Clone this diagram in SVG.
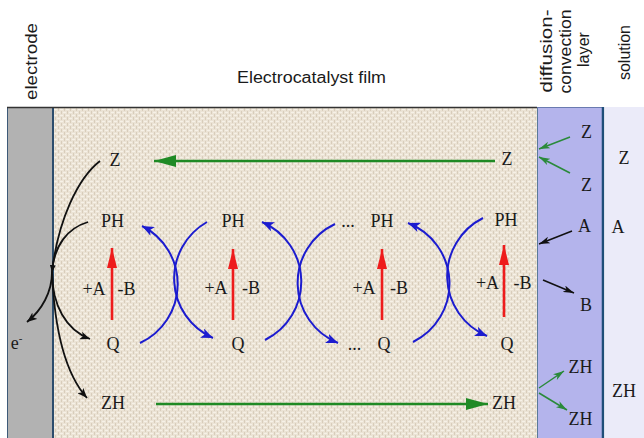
<svg xmlns="http://www.w3.org/2000/svg" width="644" height="438" viewBox="0 0 644 438">
<style>
.sans{font-family:"Liberation Sans",Arial,sans-serif;fill:#1a1a1a;font-size:16px}
.ser{font-family:"Liberation Serif","Times New Roman",serif;fill:#1a1a1a;font-size:18px;text-anchor:middle}
.blue{fill:none;stroke:#1c1ccf;stroke-width:2;marker-end:url(#mBlue)}
.red{stroke:#ee1c1c;stroke-width:2.6;marker-end:url(#mRed)}
.green{stroke:#1f8a25;stroke-width:2.4;marker-end:url(#mGreen)}
.blk{fill:none;stroke:#111;stroke-width:1.8}
.sg{stroke:#2a8a3a;stroke-width:1.5;marker-end:url(#mSG)}
.sk{stroke:#111;stroke-width:1.5;marker-end:url(#mSK)}
</style>
<defs>
<pattern id="weave" width="6" height="6" patternUnits="userSpaceOnUse">
<rect width="6" height="6" fill="#ebe3d5"/>
<path d="M0,1.5H3M3,4.5H6" stroke="#f6f1e7" stroke-width="1.2"/>
<path d="M1.5,3V6M4.5,0V3" stroke="#d8cdbb" stroke-width="1"/>
</pattern>
<marker id="mBlue" markerUnits="userSpaceOnUse" markerWidth="12" markerHeight="10" refX="12" refY="5" orient="auto"><path d="M0,0 L12,5 L0,10 L3,5 z" fill="#1c1ccf"/></marker>
<marker id="mRed" markerUnits="userSpaceOnUse" markerWidth="20" markerHeight="10" refX="20" refY="5" orient="auto"><path d="M0,0 L20,5 L0,10 z" fill="#ee1c1c"/></marker>
<marker id="mGreen" markerUnits="userSpaceOnUse" markerWidth="22" markerHeight="12" refX="22" refY="6" orient="auto"><path d="M0,0 L22,6 L0,12 z" fill="#1f8a25"/></marker>
<marker id="mBlk" markerUnits="userSpaceOnUse" markerWidth="10" markerHeight="8" refX="10" refY="4" orient="auto"><path d="M0,0 L10,4 L0,8 L2.5,4 z" fill="#111"/></marker>
<marker id="mBlkS" markerUnits="userSpaceOnUse" markerWidth="7" markerHeight="6" refX="7" refY="3" orient="auto"><path d="M0,0 L7,3 L0,6 z" fill="#111"/></marker>
<marker id="mSG" markerUnits="userSpaceOnUse" markerWidth="11" markerHeight="7" refX="11" refY="3.5" orient="auto"><path d="M0,0 L11,3.5 L0,7 L3,3.5 z" fill="#2a8a3a"/></marker>
<marker id="mSK" markerUnits="userSpaceOnUse" markerWidth="11" markerHeight="7" refX="11" refY="3.5" orient="auto"><path d="M0,0 L11,3.5 L0,7 L3,3.5 z" fill="#111"/></marker>
</defs>
<rect width="644" height="438" fill="#ffffff"/>

<g id="electrode">
<rect x="7" y="107" width="46" height="331" fill="#b2b2b2"/>
<line x1="7.5" y1="107" x2="7.5" y2="438" stroke="#3d5a78" stroke-width="1"/>
<line x1="53" y1="107" x2="53" y2="438" stroke="#2c4d6d" stroke-width="2"/>
<text class="sans" transform="translate(37,61.5) rotate(-90)" text-anchor="middle" textLength="77" lengthAdjust="spacingAndGlyphs">electrode</text>
</g>
<g id="film">
<rect x="54" y="107" width="483" height="331" fill="url(#weave)"/>
<line x1="7" y1="107.5" x2="537" y2="107.5" stroke="#333" stroke-width="1.6"/>
<text class="sans" x="311.5" y="83" text-anchor="middle" textLength="149" lengthAdjust="spacingAndGlyphs">Electrocatalyst film</text>
</g>
<g id="diffusion-layer">
<rect x="537" y="107" width="66" height="331" fill="#b4b4ec"/>
<line x1="537.5" y1="107" x2="537.5" y2="438" stroke="#5a7a9a" stroke-width="1"/>
<line x1="537" y1="107.5" x2="603" y2="107.5" stroke="#6a7ab0" stroke-width="1"/>
<line x1="603" y1="107" x2="603" y2="438" stroke="#1f4e79" stroke-width="2.5"/>
<text class="sans" transform="translate(552,51) rotate(-90)" text-anchor="middle" textLength="83" lengthAdjust="spacingAndGlyphs">diffusion-</text>
<text class="sans" transform="translate(571,51.5) rotate(-90)" text-anchor="middle" textLength="84" lengthAdjust="spacingAndGlyphs">convection</text>
<text class="sans" transform="translate(589,49.5) rotate(-90)" text-anchor="middle" textLength="35" lengthAdjust="spacingAndGlyphs">layer</text>
<text class="ser" x="586.5" y="138">Z</text>
<text class="ser" x="586.5" y="191">Z</text>
<text class="ser" x="584.5" y="232">A</text>
<text class="ser" x="586" y="311">B</text>
<text class="ser" x="580.5" y="373">ZH</text>
<text class="ser" x="580.5" y="425">ZH</text>
</g>
<g id="solution">
<rect x="604.5" y="107" width="40" height="331" fill="#ebebf9"/>
<text class="sans" transform="translate(630,52.5) rotate(-90)" text-anchor="middle" textLength="55" lengthAdjust="spacingAndGlyphs">solution</text>
<text class="ser" x="624" y="164">Z</text>
<text class="ser" x="618" y="233">A</text>
<text class="ser" x="624" y="397">ZH</text>
</g>

<g id="species">
<text class="ser" x="115" y="166">Z</text>
<text class="ser" x="507" y="165">Z</text>
<text class="ser" x="112.5" y="227">PH</text>
<text class="ser" x="233" y="227">PH</text>
<text class="ser" x="348" y="227">...</text>
<text class="ser" x="382" y="227">PH</text>
<text class="ser" x="506" y="226">PH</text>
<text class="ser" x="113" y="350">Q</text>
<text class="ser" x="238" y="350">Q</text>
<text class="ser" x="354.5" y="350">...</text>
<text class="ser" x="384" y="350">Q</text>
<text class="ser" x="507" y="350">Q</text>
<text class="ser" x="113" y="409">ZH</text>
<text class="ser" x="504" y="409">ZH</text>
<text class="ser" x="94" y="295">+A</text>
<text class="ser" x="126.5" y="295">-B</text>
<text class="ser" x="216" y="294">+A</text>
<text class="ser" x="251" y="294">-B</text>
<text class="ser" x="364" y="294">+A</text>
<text class="ser" x="399" y="294">-B</text>
<text class="ser" x="487.5" y="289">+A</text>
<text class="ser" x="522.5" y="289">-B</text>
<text class="ser" x="16.5" y="349">e<tspan font-size="11" dy="-7">-</tspan></text>
</g>

<g id="connectors">
<line class="red" x1="112" y1="320" x2="112" y2="248"/>
<line class="red" x1="233" y1="320" x2="233" y2="249"/>
<line class="red" x1="382" y1="320" x2="382" y2="249"/>
<line class="red" x1="504" y1="317" x2="504" y2="245"/>

<path class="blue" d="M140,343 A65,65 0 0 0 142,226"/>
<path class="blue" d="M207,222 A65,65 0 0 0 213,338"/>
<path class="blue" d="M265,340 A65,65 0 0 0 262,222"/>
<path class="blue" d="M335,224 A65,65 0 0 0 338,343"/>
<path class="blue" d="M413,342 A65,65 0 0 0 408,223"/>
<path class="blue" d="M483,218 A65,65 0 0 0 487,336"/>

<line class="green" x1="495" y1="161" x2="154" y2="161"/>
<line class="green" x1="156" y1="404" x2="488" y2="404"/>

<path class="blk" d="M100,161 C78,178 58,220 52,272" marker-end="url(#mBlkS)"/>
<path class="blk" d="M88,222 C68,228 54,245 52,272"/>
<path class="blk" d="M52,272 C52,292 42,310 27,322" marker-end="url(#mBlk)"/>
<path class="blk" d="M52,272 C52,305 66,330 90,339" marker-end="url(#mBlk)"/>
<path class="blk" d="M52,272 C54,320 62,370 87,398" marker-end="url(#mBlk)"/>

<line class="sg" x1="570" y1="137" x2="539" y2="149"/>
<line class="sg" x1="570" y1="173" x2="539" y2="157"/>
<line class="sk" x1="572" y1="231" x2="539" y2="244"/>
<line class="sk" x1="543" y1="280" x2="574" y2="293"/>
<line class="sg" x1="539" y1="388" x2="564" y2="371"/>
<line class="sg" x1="539" y1="393" x2="567" y2="410"/>
</g>
</svg>
